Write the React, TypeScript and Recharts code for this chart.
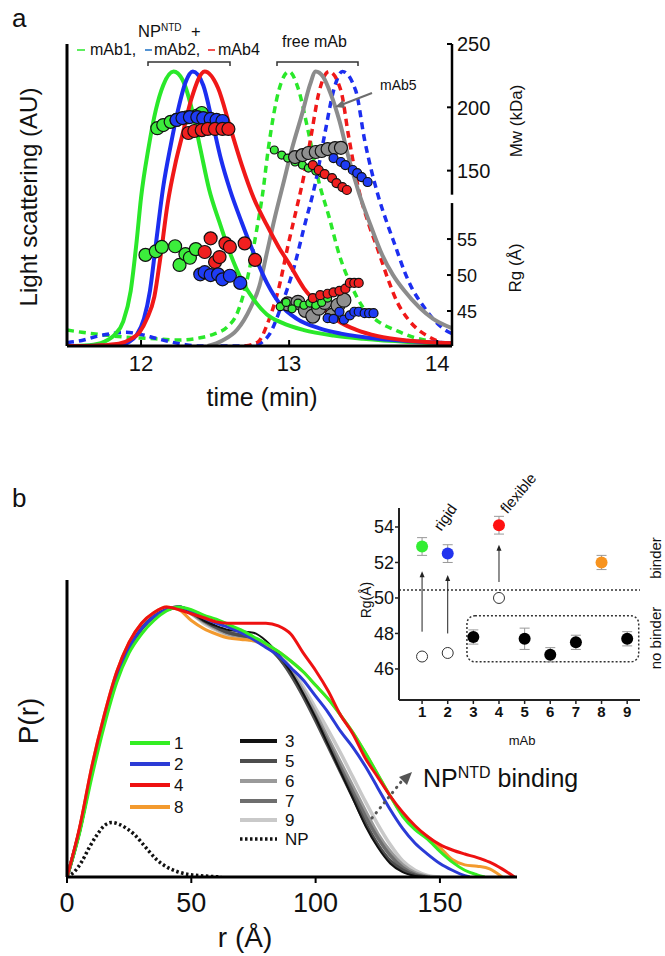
import React from "react";
import {
    ComposedChart,
    Line,
    Scatter,
    XAxis,
    YAxis,
    ReferenceLine,
    ReferenceArea,
    ErrorBar,
} from "recharts";

type Pair = [number, number];

const FONT = '"Liberation Sans", Arial, Helvetica, sans-serif';

// ---------------- panel a : SEC-MALS ----------------
const timeTicks = [12, 13, 14];
const mwTicks = [150, 200, 250];
const rgTicksA = [45, 50, 55];

// light scattering traces, normalised to peak = 1  [time (min), LS]
const lsMab1Complex: Pair[] = [
    [11.5, 0], [11.65, 0.003], [11.75, 0.015], [11.82, 0.04], [11.88, 0.09], [11.93, 0.2],
    [11.97, 0.38], [12.0, 0.54], [12.05, 0.72], [12.1, 0.86], [12.15, 0.95], [12.22, 1.0],
    [12.28, 0.97], [12.34, 0.87], [12.4, 0.72], [12.46, 0.57], [12.53, 0.45], [12.6, 0.34],
    [12.68, 0.24], [12.76, 0.17], [12.85, 0.115], [12.95, 0.085], [13.1, 0.058], [13.3, 0.038],
    [13.5, 0.026], [13.8, 0.015], [14.1, 0.01],
];
const lsMab2Complex: Pair[] = [
    [11.5, 0], [11.85, 0.003], [11.92, 0.015], [11.97, 0.04], [12.02, 0.1], [12.06, 0.2],
    [12.1, 0.37], [12.15, 0.58], [12.2, 0.73], [12.25, 0.86], [12.3, 0.96], [12.35, 1.0],
    [12.42, 0.95], [12.48, 0.82], [12.54, 0.68], [12.6, 0.57], [12.68, 0.45], [12.76, 0.34],
    [12.85, 0.23], [12.95, 0.145], [13.05, 0.1], [13.2, 0.065], [13.35, 0.045], [13.6, 0.026],
    [13.9, 0.015], [14.1, 0.01],
];
const lsMab4Complex: Pair[] = [
    [11.5, 0], [11.65, 0], [11.75, 0.003], [11.85, 0.008], [11.93, 0.025], [11.99, 0.05],
    [12.04, 0.1], [12.09, 0.18], [12.13, 0.32], [12.18, 0.52], [12.23, 0.66], [12.28, 0.77],
    [12.34, 0.9], [12.43, 1.0], [12.52, 0.94], [12.6, 0.8], [12.68, 0.66], [12.76, 0.54],
    [12.85, 0.44], [12.93, 0.36], [13.0, 0.3], [13.1, 0.21], [13.22, 0.14], [13.35, 0.085],
    [13.45, 0.06], [13.6, 0.036], [13.8, 0.02], [14.1, 0.01],
];
const lsMab1Free: Pair[] = [
    [11.5, 0.058], [11.6, 0.05], [11.75, 0.04], [11.9, 0.032], [12.1, 0.026], [12.25, 0.022],
    [12.4, 0.03], [12.5, 0.045], [12.58, 0.068], [12.65, 0.12], [12.72, 0.25], [12.78, 0.42],
    [12.82, 0.55], [12.86, 0.72], [12.93, 0.93], [13.0, 1.0], [13.06, 0.94], [13.13, 0.78],
    [13.2, 0.6], [13.27, 0.47], [13.34, 0.33], [13.42, 0.22], [13.5, 0.14], [13.6, 0.09],
    [13.73, 0.055], [13.85, 0.03], [13.95, 0.018],
];
const lsMab5Free: Pair[] = [
    [12.45, 0], [12.55, 0.02], [12.65, 0.06], [12.74, 0.14], [12.8, 0.22], [12.85, 0.34],
    [12.9, 0.46], [12.96, 0.59], [13.02, 0.72], [13.09, 0.85], [13.14, 0.95], [13.18, 1.0],
    [13.23, 0.98], [13.28, 0.92], [13.34, 0.82], [13.4, 0.69], [13.47, 0.56], [13.55, 0.44],
    [13.63, 0.33], [13.7, 0.26], [13.78, 0.2], [13.88, 0.14], [13.97, 0.1], [14.1, 0.065],
];
const lsMab4Free: Pair[] = [
    [12.7, 0], [12.79, 0.015], [12.86, 0.09], [12.93, 0.21], [12.99, 0.36], [13.05, 0.5],
    [13.1, 0.62], [13.15, 0.77], [13.2, 0.92], [13.27, 1.0], [13.35, 0.93], [13.4, 0.77],
    [13.47, 0.57], [13.54, 0.44], [13.6, 0.35], [13.67, 0.24], [13.73, 0.16], [13.8, 0.1],
    [13.87, 0.06], [13.94, 0.035], [14.03, 0.012],
];
const lsMab2Free: Pair[] = [
    [11.5, 0.012], [11.6, 0.02], [11.7, 0.035], [11.8, 0.045], [11.9, 0.05], [12.0, 0.042],
    [12.1, 0.028], [12.2, 0.015], [12.3, 0.005], [12.4, 0], [12.75, 0], [12.82, 0.015],
    [12.87, 0.045], [12.95, 0.15], [13.04, 0.3], [13.1, 0.43], [13.18, 0.6], [13.24, 0.77],
    [13.3, 0.93], [13.36, 1.0], [13.45, 0.93], [13.51, 0.75], [13.6, 0.55], [13.66, 0.45],
    [13.72, 0.36], [13.78, 0.27], [13.83, 0.21], [13.9, 0.15], [13.97, 0.1], [14.05, 0.06],
    [14.1, 0.045],
];

// molar mass across the peaks [time, Mw (kDa)]
const mwMab1Complex: Pair[] = [
    [12.11, 183.5], [12.15, 186], [12.2, 188.5], [12.24, 190], [12.31, 192], [12.38, 193.5], [12.41, 195.5],
];
const mwMab2Complex: Pair[] = [
    [12.24, 190], [12.28, 191.5], [12.33, 192.3], [12.38, 192.3], [12.42, 191.5], [12.47, 190.8],
    [12.51, 190], [12.55, 189.2],
];
const mwMab4Complex: Pair[] = [
    [12.32, 179.7], [12.36, 181.3], [12.41, 182], [12.45, 182.9], [12.5, 182.9], [12.55, 182.9], [12.59, 182.9],
];
const mwMab1Free: Pair[] = [
    [12.9, 166.3], [12.95, 162.3], [12.99, 159.9], [13.04, 156.8], [13.09, 154.4], [13.13, 152],
    [13.18, 149.7], [13.22, 148.1],
];
const mwMab5Free: Pair[] = [
    [13.04, 160.7], [13.09, 162.3], [13.13, 163.9], [13.18, 164.7], [13.22, 165.5], [13.26, 167],
    [13.31, 167.8], [13.35, 168],
];
const mwMab4Free: Pair[] = [
    [13.16, 154.4], [13.2, 150.5], [13.24, 147.3], [13.29, 144.1], [13.32, 140.2], [13.36, 137], [13.39, 134.7],
];
const mwMab2Free: Pair[] = [
    [13.3, 159.9], [13.35, 156.8], [13.38, 154.4], [13.43, 150.5], [13.46, 148.1], [13.49, 144.9], [13.53, 141],
];

// radius of gyration across the peaks [time, Rg (Å)]
const rgMab1Complex: Pair[] = [
    [12.03, 52.8], [12.1, 53.3], [12.14, 53.9], [12.23, 54.0], [12.26, 51.4], [12.3, 52.9], [12.33, 52.4], [12.37, 53.6],
];
const rgMab4Complex: Pair[] = [
    [12.43, 53.2], [12.47, 55.1], [12.5, 51.8], [12.53, 52.5], [12.57, 54.4], [12.6, 53.9], [12.7, 54.4], [12.77, 52.1],
];
const rgMab2Complex: Pair[] = [
    [12.4, 50.1], [12.43, 50.4], [12.47, 50.0], [12.52, 50.1], [12.55, 49.4], [12.6, 49.9], [12.67, 48.9],
];
const rgMab5Free: Pair[] = [
    [12.99, 46.0], [13.06, 46.2], [13.11, 45.1], [13.16, 44.3], [13.2, 45.4], [13.24, 46.2], [13.29, 44.4],
    [13.33, 45.8], [13.37, 46.5],
];
const rgMab1Free: Pair[] = [
    [12.94, 45.6], [12.98, 46.2], [13.02, 45.3], [13.06, 46.1], [13.1, 45.8], [13.14, 46.1], [13.18, 45.8],
    [13.22, 46.2], [13.26, 46.8],
];
const rgMab4Free: Pair[] = [
    [13.16, 46.8], [13.21, 47.2], [13.26, 47.4], [13.3, 47.6], [13.34, 47.8], [13.38, 48.1], [13.41, 48.9],
    [13.44, 48.9], [13.47, 48.9],
];
const rgMab2Free: Pair[] = [
    [13.26, 44.0], [13.3, 43.9], [13.34, 44.9], [13.37, 43.8], [13.41, 44.4], [13.44, 44.9], [13.47, 44.9],
    [13.51, 44.7], [13.54, 44.7], [13.57, 44.7],
];

// ---------------- panel b : pair distance distributions ----------------
const rTicks = [0, 50, 100, 150];

const prMab1: Pair[] = [
    [0, 0], [5, 0.16], [10, 0.37], [15, 0.56], [20, 0.72], [25, 0.83], [30, 0.9], [35, 0.95], [40, 0.985],
    [45, 1.0], [50, 0.99], [55, 0.97], [60, 0.955], [65, 0.935], [70, 0.915], [75, 0.89], [80, 0.865],
    [85, 0.835], [90, 0.8], [95, 0.76], [100, 0.71], [105, 0.66], [110, 0.6], [115, 0.535], [120, 0.46],
    [125, 0.38], [130, 0.3], [135, 0.225], [140, 0.175], [145, 0.14], [150, 0.095], [155, 0.055],
    [160, 0.025], [165, 0.008], [168, 0],
];
const prMab2: Pair[] = [
    [0, 0], [5, 0.17], [10, 0.39], [15, 0.58], [20, 0.74], [25, 0.85], [30, 0.92], [35, 0.965], [40, 0.99],
    [45, 1.0], [50, 0.985], [55, 0.96], [60, 0.94], [65, 0.925], [70, 0.905], [75, 0.88], [80, 0.85],
    [85, 0.82], [90, 0.775], [95, 0.73], [100, 0.67], [105, 0.61], [110, 0.54], [115, 0.48], [120, 0.41],
    [125, 0.33], [130, 0.25], [135, 0.18], [140, 0.125], [145, 0.085], [150, 0.05], [155, 0.025],
    [160, 0.005], [162, 0],
];
const prMab4: Pair[] = [
    [0, 0], [5, 0.18], [10, 0.41], [15, 0.6], [20, 0.76], [25, 0.87], [30, 0.94], [35, 0.98], [40, 1.0],
    [45, 0.99], [50, 0.975], [55, 0.96], [60, 0.945], [65, 0.94], [70, 0.94], [75, 0.94], [80, 0.94],
    [85, 0.93], [90, 0.9], [95, 0.83], [100, 0.765], [105, 0.69], [110, 0.6], [115, 0.53], [120, 0.44],
    [125, 0.37], [130, 0.3], [135, 0.24], [140, 0.19], [145, 0.15], [150, 0.12], [155, 0.1], [160, 0.085],
    [165, 0.072], [170, 0.055], [175, 0.03], [180, 0],
];
const prMab8: Pair[] = [
    [0, 0], [5, 0.18], [10, 0.41], [15, 0.6], [20, 0.76], [25, 0.87], [30, 0.94], [35, 0.98], [40, 1.0],
    [45, 0.99], [50, 0.95], [55, 0.92], [60, 0.9], [65, 0.885], [70, 0.88], [75, 0.875], [80, 0.86],
    [85, 0.835], [90, 0.8], [95, 0.76], [100, 0.71], [105, 0.66], [110, 0.6], [115, 0.535], [120, 0.46],
    [125, 0.38], [130, 0.3], [135, 0.23], [140, 0.185], [145, 0.15], [150, 0.11], [155, 0.065],
    [160, 0.045], [165, 0.04], [170, 0.03], [175, 0],
];
const prMab3: Pair[] = [
    [0, 0], [5, 0.17], [10, 0.39], [15, 0.58], [20, 0.74], [25, 0.85], [30, 0.92], [35, 0.965], [40, 0.99],
    [45, 1.0], [50, 0.98], [55, 0.95], [60, 0.93], [65, 0.915], [70, 0.91], [75, 0.905], [80, 0.875],
    [85, 0.825], [90, 0.76], [95, 0.68], [100, 0.59], [105, 0.49], [110, 0.39], [115, 0.29], [120, 0.19],
    [125, 0.11], [130, 0.05], [135, 0.018], [140, 0.004], [143, 0],
];
const prMab5: Pair[] = [
    [0, 0], [5, 0.17], [10, 0.39], [15, 0.58], [20, 0.74], [25, 0.85], [30, 0.92], [35, 0.965], [40, 0.99],
    [45, 1.0], [50, 0.98], [55, 0.95], [60, 0.925], [65, 0.905], [70, 0.895], [75, 0.885], [80, 0.86],
    [85, 0.815], [90, 0.75], [95, 0.67], [100, 0.58], [105, 0.485], [110, 0.39], [115, 0.295], [120, 0.2],
    [125, 0.12], [130, 0.06], [135, 0.025], [140, 0.006], [144, 0],
];
const prMab6: Pair[] = [
    [0, 0], [5, 0.17], [10, 0.39], [15, 0.58], [20, 0.74], [25, 0.85], [30, 0.92], [35, 0.965], [40, 0.99],
    [45, 1.0], [50, 0.975], [55, 0.945], [60, 0.92], [65, 0.9], [70, 0.89], [75, 0.88], [80, 0.86],
    [85, 0.82], [90, 0.765], [95, 0.69], [100, 0.605], [105, 0.515], [110, 0.425], [115, 0.335],
    [120, 0.245], [125, 0.16], [130, 0.095], [135, 0.045], [140, 0.015], [146, 0],
];
const prMab7: Pair[] = [
    [0, 0], [5, 0.17], [10, 0.39], [15, 0.58], [20, 0.74], [25, 0.85], [30, 0.92], [35, 0.965], [40, 0.99],
    [45, 1.0], [50, 0.98], [55, 0.95], [60, 0.925], [65, 0.905], [70, 0.895], [75, 0.885], [80, 0.86],
    [85, 0.815], [90, 0.755], [95, 0.675], [100, 0.59], [105, 0.5], [110, 0.405], [115, 0.315],
    [120, 0.225], [125, 0.145], [130, 0.08], [135, 0.035], [140, 0.01], [145, 0],
];
const prMab9: Pair[] = [
    [0, 0], [5, 0.17], [10, 0.39], [15, 0.58], [20, 0.74], [25, 0.85], [30, 0.92], [35, 0.965], [40, 0.99],
    [45, 1.0], [50, 0.975], [55, 0.94], [60, 0.915], [65, 0.895], [70, 0.885], [75, 0.875], [80, 0.86],
    [85, 0.825], [90, 0.775], [95, 0.705], [100, 0.625], [105, 0.545], [110, 0.46], [115, 0.37],
    [120, 0.28], [125, 0.195], [130, 0.12], [135, 0.06], [140, 0.025], [145, 0.006], [150, 0],
];
const prNP: Pair[] = [
    [0, 0], [3, 0.02], [6, 0.058], [9, 0.11], [12, 0.155], [15, 0.19], [18, 0.202], [21, 0.195], [24, 0.18],
    [27, 0.158], [30, 0.128], [33, 0.095], [36, 0.065], [40, 0.038], [45, 0.018], [50, 0.008], [55, 0.004],
    [62, 0],
];

// ---------------- inset : Rg per mAb ----------------
const mAbTicks = [1, 2, 3, 4, 5, 6, 7, 8, 9];
const rgInsetTicks = [46, 48, 50, 52, 54];
const binderMab = [1, 2, 4, 8];
const binderRg = [52.9, 52.5, 54.1, 52.0];
const binderErr = [0.5, 0.5, 0.5, 0.4];
const freeMab = [1, 2, 4];
const freeRg = [46.7, 46.9, 50.0];
const nonBinderMab = [3, 5, 6, 7, 9];
const nonBinderRg = [47.8, 47.7, 46.8, 47.5, 47.7];
const nonBinderErr = [0.4, 0.6, 0.4, 0.4, 0.4];
const binderThreshold = 50.45;
// arrows: unbound Rg -> complex Rg
const arrowFrom = [48.1, 48.0, 50.9];
const arrowTo = [51.5, 51.3, 53.0];

// ---------------- colours ----------------
const GREEN = "#2ae82a";
const BLUE = "#1c2ef0";
const RED = "#f01818";
const GRAY = "#8c8c8c";
const binderColor: Record<number, string> = { 1: "#33ee33", 2: "#2233ee", 4: "#ff1111", 8: "#f7931e" };

const trace = (d: Pair[]) => d.map(([t, v]) => ({ t, v }));
const mwPts = (d: Pair[]) => d.map(([t, mw]) => ({ t, mw }));
const rgPts = (d: Pair[]) => d.map(([t, rg]) => ({ t, rg }));
const prPts = (d: Pair[]) => d.map(([r, p]) => ({ r, p }));

const dot = (r: number, fill: string) => (p: any) =>
    p.cx == null ? <g /> : <circle cx={p.cx} cy={p.cy} r={r} fill={fill} stroke="#111" strokeWidth={1.2} />;

function timeTick(p: any) {
    const { x, y, payload } = p;
    return (
        <g>
            <line x1={x} x2={x} y1={y} y2={y - 6} stroke="#000" strokeWidth={2} />
            <text x={x} y={y + 9} dy="0.72em" textAnchor="middle" fontSize={22} fill="#111">
                {payload.value}
            </text>
        </g>
    );
}

const rightTick = (fontSize: number) => (p: any) => (
    <g>
        <line x1={p.x} x2={p.x - 5} y1={p.y} y2={p.y} stroke="#000" strokeWidth={2} />
        <text x={p.x + 5} y={p.y} dy="0.36em" fontSize={fontSize} fill="#111">
            {p.payload.value}
        </text>
    </g>
);

const A_MARGIN = { top: 44, right: 153, bottom: 44, left: 57 };

function PanelATraces() {
    const solid = { type: "monotone" as const, dot: false, strokeWidth: 4, isAnimationActive: false, yAxisId: "ls", dataKey: "v" };
    const dashed = { ...solid, strokeWidth: 3.5, strokeDasharray: "7 5" };
    return (
        <ComposedChart width={665} height={420} margin={A_MARGIN}>
            <XAxis
                dataKey="t" type="number" domain={[11.5, 14.1]} ticks={timeTicks} allowDataOverflow
                height={30} interval={0} axisLine={{ stroke: "#000", strokeWidth: 3 }}
                tickLine={false} tickSize={0} tickMargin={0} tick={timeTick}
            />
            <YAxis yAxisId="ls" domain={[0, 1.1]} width={10} tick={false} tickLine={false}
                axisLine={{ stroke: "#000", strokeWidth: 3 }} allowDataOverflow />
            <YAxis
                yAxisId="mw" orientation="right" dataKey="mw" domain={[11.5, 250]} ticks={mwTicks}
                width={60} interval={0} axisLine={false} tickLine={false} tickSize={0} tickMargin={0}
                tick={rightTick(20)} allowDataOverflow
            />
            <ReferenceLine yAxisId="mw" segment={[{ x: 14.1, y: 131 }, { x: 14.1, y: 250 }]}
                stroke="#000" strokeWidth={2.5} ifOverflow="visible" />

            <Line {...dashed} data={trace(lsMab1Free)} stroke={GREEN} />
            <Line {...dashed} data={trace(lsMab2Free)} stroke={BLUE} />
            <Line {...dashed} data={trace(lsMab4Free)} stroke={RED} />
            <Line {...solid} data={trace(lsMab5Free)} stroke={GRAY} />
            <Line {...solid} data={trace(lsMab1Complex)} stroke={GREEN} />
            <Line {...solid} data={trace(lsMab2Complex)} stroke={BLUE} />
            <Line {...solid} data={trace(lsMab4Complex)} stroke={RED} />

            <Scatter yAxisId="mw" data={mwPts(mwMab1Complex)} shape={dot(6.5, "#3ced3c")} isAnimationActive={false} />
            <Scatter yAxisId="mw" data={mwPts(mwMab2Complex)} shape={dot(6.5, "#1f3cf5")} isAnimationActive={false} />
            <Scatter yAxisId="mw" data={mwPts(mwMab4Complex)} shape={dot(6.5, "#f02020")} isAnimationActive={false} />
            <Scatter yAxisId="mw" data={mwPts(mwMab1Free)} shape={dot(4, "#3ced3c")} isAnimationActive={false} />
            <Scatter yAxisId="mw" data={mwPts(mwMab5Free)} shape={dot(6.5, "#8f8f8f")} isAnimationActive={false} />
            <Scatter yAxisId="mw" data={mwPts(mwMab4Free)} shape={dot(4.5, "#f02020")} isAnimationActive={false} />
            <Scatter yAxisId="mw" data={mwPts(mwMab2Free)} shape={dot(4.5, "#1f3cf5")} isAnimationActive={false} />
        </ComposedChart>
    );
}

function PanelARg() {
    return (
        <ComposedChart width={665} height={420} margin={A_MARGIN}>
            <XAxis dataKey="t" type="number" domain={[11.5, 14.1]} allowDataOverflow height={30}
                tick={false} tickLine={false} axisLine={false} />
            <YAxis yAxisId="ls" domain={[0, 1.1]} width={10} tick={false} tickLine={false} axisLine={false} />
            <YAxis
                yAxisId="rg" orientation="right" dataKey="rg" domain={[40.14, 82.1]} ticks={rgTicksA}
                width={60} interval={0} axisLine={false} tickLine={false} tickSize={0} tickMargin={0}
                tick={rightTick(18)} allowDataOverflow
            />
            <ReferenceLine yAxisId="rg" segment={[{ x: 14.1, y: 40.14 }, { x: 14.1, y: 60 }]}
                stroke="#000" strokeWidth={2.5} ifOverflow="visible" />

            <Scatter yAxisId="rg" data={rgPts(rgMab1Complex)} shape={dot(6.5, "#3ced3c")} isAnimationActive={false} />
            <Scatter yAxisId="rg" data={rgPts(rgMab4Complex)} shape={dot(6.5, "#f02020")} isAnimationActive={false} />
            <Scatter yAxisId="rg" data={rgPts(rgMab2Complex)} shape={dot(6.5, "#1f3cf5")} isAnimationActive={false} />
            <Scatter yAxisId="rg" data={rgPts(rgMab5Free)} shape={dot(7, "#8f8f8f")} isAnimationActive={false} />
            <Scatter yAxisId="rg" data={rgPts(rgMab1Free)} shape={dot(4, "#3ced3c")} isAnimationActive={false} />
            <Scatter yAxisId="rg" data={rgPts(rgMab4Free)} shape={dot(4.5, "#f02020")} isAnimationActive={false} />
            <Scatter yAxisId="rg" data={rgPts(rgMab2Free)} shape={dot(4.5, "#1f3cf5")} isAnimationActive={false} />
        </ComposedChart>
    );
}

function PanelB() {
    const base = { type: "monotone" as const, dot: false, isAnimationActive: false, dataKey: "p" };
    return (
        <ComposedChart width={665} height={416} margin={{ top: 40, right: 148, bottom: 39, left: 47 }}>
            <XAxis
                dataKey="r" type="number" domain={[0, 181]} ticks={rTicks} allowDataOverflow height={40}
                interval={0} axisLine={{ stroke: "#000", strokeWidth: 3 }}
                tickLine={{ stroke: "#000", strokeWidth: 2 }} tickSize={6} tickMargin={10}
                tick={{ fontSize: 27, fill: "#111" }}
            />
            <YAxis domain={[0, 1.1]} width={20} tick={false} tickLine={false}
                axisLine={{ stroke: "#000", strokeWidth: 3 }} allowDataOverflow />
            <Line {...base} data={prPts(prNP)} stroke="#111" strokeWidth={3.5} strokeDasharray="2.5 2.5" />
            <Line {...base} data={prPts(prMab9)} stroke="#c9c9c9" strokeWidth={3.5} />
            <Line {...base} data={prPts(prMab6)} stroke="#9a9a9a" strokeWidth={3.5} />
            <Line {...base} data={prPts(prMab7)} stroke="#6e6e6e" strokeWidth={3.5} />
            <Line {...base} data={prPts(prMab5)} stroke="#4d4d4d" strokeWidth={3.5} />
            <Line {...base} data={prPts(prMab3)} stroke="#111" strokeWidth={2} />
            <Line {...base} data={prPts(prMab8)} stroke="#f39a2e" strokeWidth={3} />
            <Line {...base} data={prPts(prMab2)} stroke="#2b3bd6" strokeWidth={3} />
            <Line {...base} data={prPts(prMab1)} stroke="#33ee22" strokeWidth={3} />
            <Line {...base} data={prPts(prMab4)} stroke="#ee1111" strokeWidth={3} />
        </ComposedChart>
    );
}

const roundBox = (p: any) => (
    <rect x={p.x} y={p.y} width={p.width} height={p.height} rx={8} fill="none"
        stroke="#333" strokeWidth={1.5} strokeDasharray="2 2" />
);

const upArrow = (p: any) => (
    <g>
        <line x1={p.x1} y1={p.y1} x2={p.x2} y2={p.y2 + 4} stroke="#222" strokeWidth={1} />
        <polygon points={`${p.x2},${p.y2} ${p.x2 - 2.5},${p.y2 + 6} ${p.x2 + 2.5},${p.y2 + 6}`} fill="#222" />
    </g>
);

function Inset() {
    const binders = binderMab.map((m, i) => ({ m, rg: binderRg[i], err: binderErr[i] }));
    const unbound = freeMab.map((m, i) => ({ m, rg: freeRg[i] }));
    const nonBinders = nonBinderMab.map((m, i) => ({ m, rg: nonBinderRg[i], err: nonBinderErr[i] }));
    return (
        <ComposedChart width={335} height={270} margin={{ top: 38, right: 25, bottom: 15, left: 29 }}>
            <XAxis
                dataKey="m" type="number" domain={[0.1, 9.5]} ticks={mAbTicks} interval={0} height={25}
                axisLine={{ stroke: "#222", strokeWidth: 2 }} tickLine={{ stroke: "#222", strokeWidth: 1.5 }}
                tickSize={4} tickMargin={2} tick={{ fontSize: 15, fontWeight: "bold", fill: "#111" }}
            />
            <YAxis
                dataKey="rg" domain={[44.25, 55.07]} ticks={rgInsetTicks} interval={0} width={40}
                axisLine={{ stroke: "#222", strokeWidth: 2 }} tickLine={{ stroke: "#222", strokeWidth: 1.5 }}
                tickSize={4} tickMargin={1} tick={{ fontSize: 18, fill: "#111" }} allowDataOverflow
            />
            <ReferenceLine y={binderThreshold} stroke="#333" strokeWidth={1.5} strokeDasharray="2 2" />
            <ReferenceArea x1={2.75} x2={9.45} y1={46.4} y2={49.0} shape={roundBox} />
            {freeMab.map((m, i) => (
                <ReferenceLine key={m} segment={[{ x: m, y: arrowFrom[i] }, { x: m, y: arrowTo[i] }]} shape={upArrow} />
            ))}
            <Scatter data={unbound} isAnimationActive={false}
                shape={(p: any) => <circle cx={p.cx} cy={p.cy} r={5.5} fill="#fff" stroke="#333" strokeWidth={1} />} />
            <Scatter data={nonBinders} isAnimationActive={false}
                shape={(p: any) => <circle cx={p.cx} cy={p.cy} r={6} fill="#000" />}>
                <ErrorBar dataKey="err" direction="y" width={5} stroke="#999" strokeWidth={1} />
            </Scatter>
            <Scatter data={binders} isAnimationActive={false}
                shape={(p: any) => <circle cx={p.cx} cy={p.cy} r={6} fill={binderColor[p.payload.m]} />}>
                <ErrorBar dataKey="err" direction="y" width={5} stroke="#999" strokeWidth={1} />
            </Scatter>
        </ComposedChart>
    );
}

function Annotations() {
    const legendLeft = [
        { label: "1", color: "#33ee22", y: 743 },
        { label: "2", color: "#2b3bd6", y: 764 },
        { label: "4", color: "#ee1111", y: 785 },
        { label: "8", color: "#f39a2e", y: 807 },
    ];
    const legendRight = [
        { label: "3", color: "#111", y: 741 },
        { label: "5", color: "#4d4d4d", y: 761 },
        { label: "6", color: "#9a9a9a", y: 781 },
        { label: "7", color: "#6e6e6e", y: 801 },
        { label: "9", color: "#c9c9c9", y: 820 },
    ];
    return (
        <svg width={665} height={956} style={{ position: "absolute", left: 0, top: 0, pointerEvents: "none" }}
            fontFamily={FONT} fill="#111">
            {/* panel a */}
            <text x={12} y={27} fontSize={26}>a</text>
            <text x={138} y={37} fontSize={16.5}>
                NP<tspan fontSize={10} dy={-6}>NTD</tspan>
            </text>
            <text x={191} y={37} fontSize={16.5}>+</text>
            <line x1={77} x2={85} y1={50} y2={50} stroke={GREEN} strokeWidth={1.5} />
            <text x={90} y={55} fontSize={16}>mAb1,</text>
            <line x1={145} x2={152} y1={50} y2={50} stroke="#1b6fc4" strokeWidth={1.5} />
            <text x={154} y={55} fontSize={16}>mAb2,</text>
            <line x1={208} x2={215} y1={50} y2={50} stroke={RED} strokeWidth={1.5} />
            <text x={218} y={55} fontSize={16}>mAb4</text>
            <path d="M148,66 L148,62 L230,62 L230,66" fill="none" stroke="#333" strokeWidth={1.5} />
            <text x={282} y={47} fontSize={16}>free mAb</text>
            <path d="M277,66 L277,62 L358,62 L358,66" fill="none" stroke="#333" strokeWidth={1.5} />
            <text x={380} y={90} fontSize={14}>mAb5</text>
            <line x1={372} y1={93} x2={341} y2={105} stroke="#6d6d6d" strokeWidth={2} />
            <polygon points="335,107 343,100 345,108" fill="#6d6d6d" />
            <text x={37} y={197} fontSize={24} textAnchor="middle" transform="rotate(-90 37 197)">
                Light scattering (AU)
            </text>
            <text x={262} y={406} fontSize={25} textAnchor="middle">time (min)</text>
            <text x={522} y={121} fontSize={17} textAnchor="middle" transform="rotate(-90 522 121)">Mw (kDa)</text>
            <text x={521} y={268} fontSize={17} textAnchor="middle" transform="rotate(-90 521 268)">Rg (Å)</text>

            {/* panel b */}
            <text x={12} y={507} fontSize={26}>b</text>
            <text x={38} y={721} fontSize={28} textAnchor="middle" transform="rotate(-90 38 721)">P(r)</text>
            <text x={245} y={947} fontSize={28} textAnchor="middle">r (Å)</text>
            {legendLeft.map((l) => (
                <g key={l.label}>
                    <line x1={130} x2={170} y1={l.y} y2={l.y} stroke={l.color} strokeWidth={4} />
                    <text x={174} y={l.y + 6} fontSize={17}>{l.label}</text>
                </g>
            ))}
            {legendRight.map((l) => (
                <g key={l.label}>
                    <line x1={240} x2={277} y1={l.y} y2={l.y} stroke={l.color} strokeWidth={4} />
                    <text x={285} y={l.y + 6} fontSize={17}>{l.label}</text>
                </g>
            ))}
            <line x1={240} x2={277} y1={839} y2={839} stroke="#111" strokeWidth={3.5} strokeDasharray="2.5 2.5" />
            <text x={285} y={845} fontSize={17}>NP</text>

            <text x={423} y={787} fontSize={25}>
                NP<tspan fontSize={16} dy={-9}>NTD</tspan><tspan dy={9}> binding</tspan>
            </text>
            <line x1={372} y1={818} x2={401} y2={782} stroke="#555" strokeWidth={3}
                strokeDasharray="0.5 6" strokeLinecap="round" />
            <polygon points="412,772 399,777 407,785" fill="#555" />

            {/* inset labels */}
            <text x={371} y={600} fontSize={14} textAnchor="middle" transform="rotate(-90 371 600)">Rg(Å)</text>
            <text x={522} y={745} fontSize={13} textAnchor="middle">mAb</text>
            <text x={445} y={517} fontSize={15} textAnchor="middle" dominantBaseline="central"
                transform="rotate(-55 445 517)">rigid</text>
            <text x={518} y={493} fontSize={15} textAnchor="middle" dominantBaseline="central"
                transform="rotate(-50 518 493)">flexible</text>
            <text x={661} y={558} fontSize={15} textAnchor="middle" transform="rotate(-90 661 558)">binder</text>
            <text x={661} y={638} fontSize={15} textAnchor="middle" transform="rotate(-90 661 638)">no binder</text>
        </svg>
    );
}

export default function App() {
    return (
        <div style={{ position: "absolute", left: 0, top: 0, width: 665, height: 956, background: "#fff", fontFamily: FONT, overflow: "hidden" }}>
            <div style={{ position: "absolute", left: 0, top: 0 }}>
                <PanelATraces />
            </div>
            <div style={{ position: "absolute", left: 0, top: 0 }}>
                <PanelARg />
            </div>
            <div style={{ position: "absolute", left: 0, top: 540 }}>
                <PanelB />
            </div>
            <div style={{ position: "absolute", left: 330, top: 470 }}>
                <Inset />
            </div>
            <Annotations />
        </div>
    );
}
